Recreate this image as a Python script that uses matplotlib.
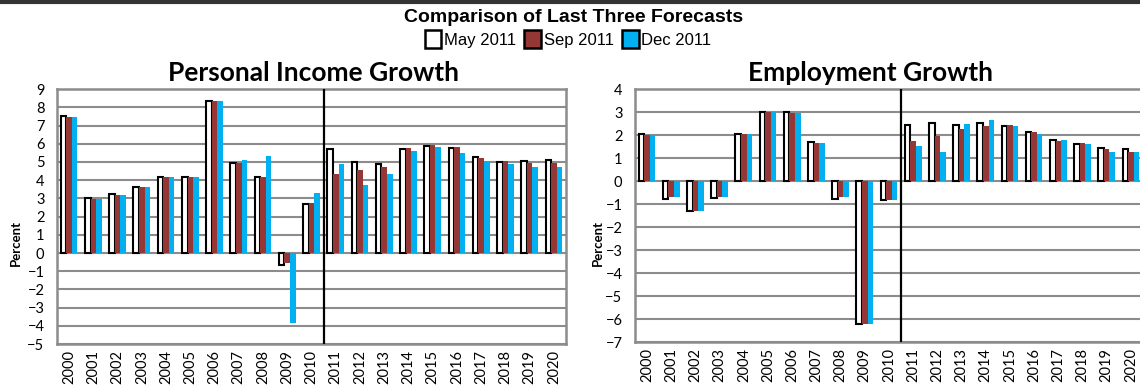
import numpy as np
import matplotlib
matplotlib.use('Agg')
import matplotlib.pyplot as plt
from matplotlib.patches import Patch
from matplotlib.lines import Line2D

years = [str(y) for y in range(2000, 2021)]

# personal income growth, percent
income_may = [7.5, 3.0, 3.25, 3.65, 4.2, 4.2, 8.35, 4.95, 4.2, -0.65, 2.7,
              5.7, 5.0, 4.9, 5.7, 5.9, 5.75, 5.3, 5.0, 5.05, 5.1]
income_sep = [7.45, 2.95, 3.2, 3.65, 4.15, 4.15, 8.35, 4.95, 4.15, -0.55, 2.75,
              4.35, 4.55, 4.7, 5.75, 5.95, 5.8, 5.2, 5.05, 4.95, 4.95]
income_dec = [7.45, 2.95, 3.2, 3.65, 4.15, 4.15, 8.35, 5.1, 5.35, -3.85, 3.3,
              4.9, 3.75, 4.35, 5.6, 5.8, 5.5, 5.05, 4.9, 4.75, 4.75]

# employment growth, percent
employ_may = [2.05, -0.78, -1.3, -0.72, 2.07, 3.0, 3.0, 1.7, -0.77, -6.2, -0.83,
              2.43, 2.54, 2.43, 2.54, 2.38, 2.12, 1.8, 1.6, 1.43, 1.38]
employ_sep = [2.0, -0.71, -1.3, -0.67, 2.05, 3.0, 2.96, 1.64, -0.71, -6.2, -0.8,
              1.74, 1.96, 2.26, 2.38, 2.43, 2.12, 1.74, 1.64, 1.38, 1.26]
employ_dec = [2.0, -0.71, -1.3, -0.67, 2.05, 3.0, 2.96, 1.64, -0.71, -6.2, -0.8,
              1.52, 1.26, 2.48, 2.64, 2.38, 2.06, 1.8, 1.6, 1.26, 1.26]

series_labels = ['May 2011', 'Sep 2011', 'Dec 2011']
RED = '#953735'
BLUE = '#00b0f0'
GRID = '#8c8c8c'

plt.rcParams['font.family'] = ['Lato', 'DejaVu Sans']

fig = plt.figure(figsize=(11.4, 3.91), dpi=100)


def draw_panel(ax, may, sep, dec, ylim):
    x = np.arange(len(years))
    w = 0.23
    ax.bar(x - w, may, w, color='white', edgecolor='black', linewidth=1.5, zorder=3)
    ax.bar(x, sep, w, color=RED, zorder=3)
    ax.bar(x + w, dec, w, color=BLUE, zorder=3)
    ax.axvline(10.5, color='black', lw=1.6, zorder=4)
    ax.set_xlim(-0.5, 20.5)
    ax.set_ylim(*ylim)
    ax.set_yticks(range(ylim[0], ylim[1] + 1))
    ax.yaxis.grid(True, color=GRID, lw=1.5, zorder=0)
    ax.set_axisbelow(True)
    ax.set_xticks(x)
    ax.set_xticklabels(years, rotation=90, fontsize=10.5)
    ax.tick_params(axis='y', labelsize=10.5, length=0, pad=9)
    ax.tick_params(axis='x', length=0, pad=4)
    for s in ax.spines.values():
        s.set_color(GRID)
        s.set_linewidth(1.8)


ax1 = fig.add_axes([0.050, 0.120, 0.4465, 0.652])
draw_panel(ax1, income_may, income_sep, income_dec, (-5, 9))
ax2 = fig.add_axes([0.557, 0.125, 0.4456, 0.647])
draw_panel(ax2, employ_may, employ_sep, employ_dec, (-7, 4))

fig.text(313 / 1140, 1 - 73 / 391, 'Personal Income Growth', ha='center', va='center',
         fontsize=19, fontweight='bold')
fig.text(870 / 1140, 1 - 73 / 391, 'Employment Growth', ha='center', va='center',
         fontsize=19, fontweight='bold')
fig.text(16 / 1140, 1 - 243 / 391, 'Percent', rotation=90, ha='center', va='center',
         fontsize=9.5, fontweight='bold')
fig.text(598 / 1140, 1 - 243 / 391, 'Percent', rotation=90, ha='center', va='center',
         fontsize=9.5, fontweight='bold')

narrow = ['Liberation Sans', 'DejaVu Sans']
fig.text(574 / 1140, 1 - 18 / 391, 'Comparison of Last Three Forecasts', ha='center',
         va='center', fontsize=14, fontweight='bold', family=narrow)

handles = [Patch(facecolor='white', edgecolor='black', lw=1.8),
           Patch(facecolor=RED, edgecolor='black', lw=1.8),
           Patch(facecolor=BLUE, edgecolor='black', lw=1.8)]
fig.legend(handles, series_labels, loc='center', bbox_to_anchor=(568 / 1140, 1 - 39 / 391),
           ncol=3, frameon=False, handlelength=1.0, handleheight=1.3,
           handletextpad=0.15, columnspacing=0.5, borderpad=0,
           prop={'family': narrow, 'size': 12})

# rule across the top edge
fig.add_artist(Line2D([0, 1], [0.995, 0.995], color='#333333', lw=3, transform=fig.transFigure))

fig.savefig('out.png', dpi=100)
